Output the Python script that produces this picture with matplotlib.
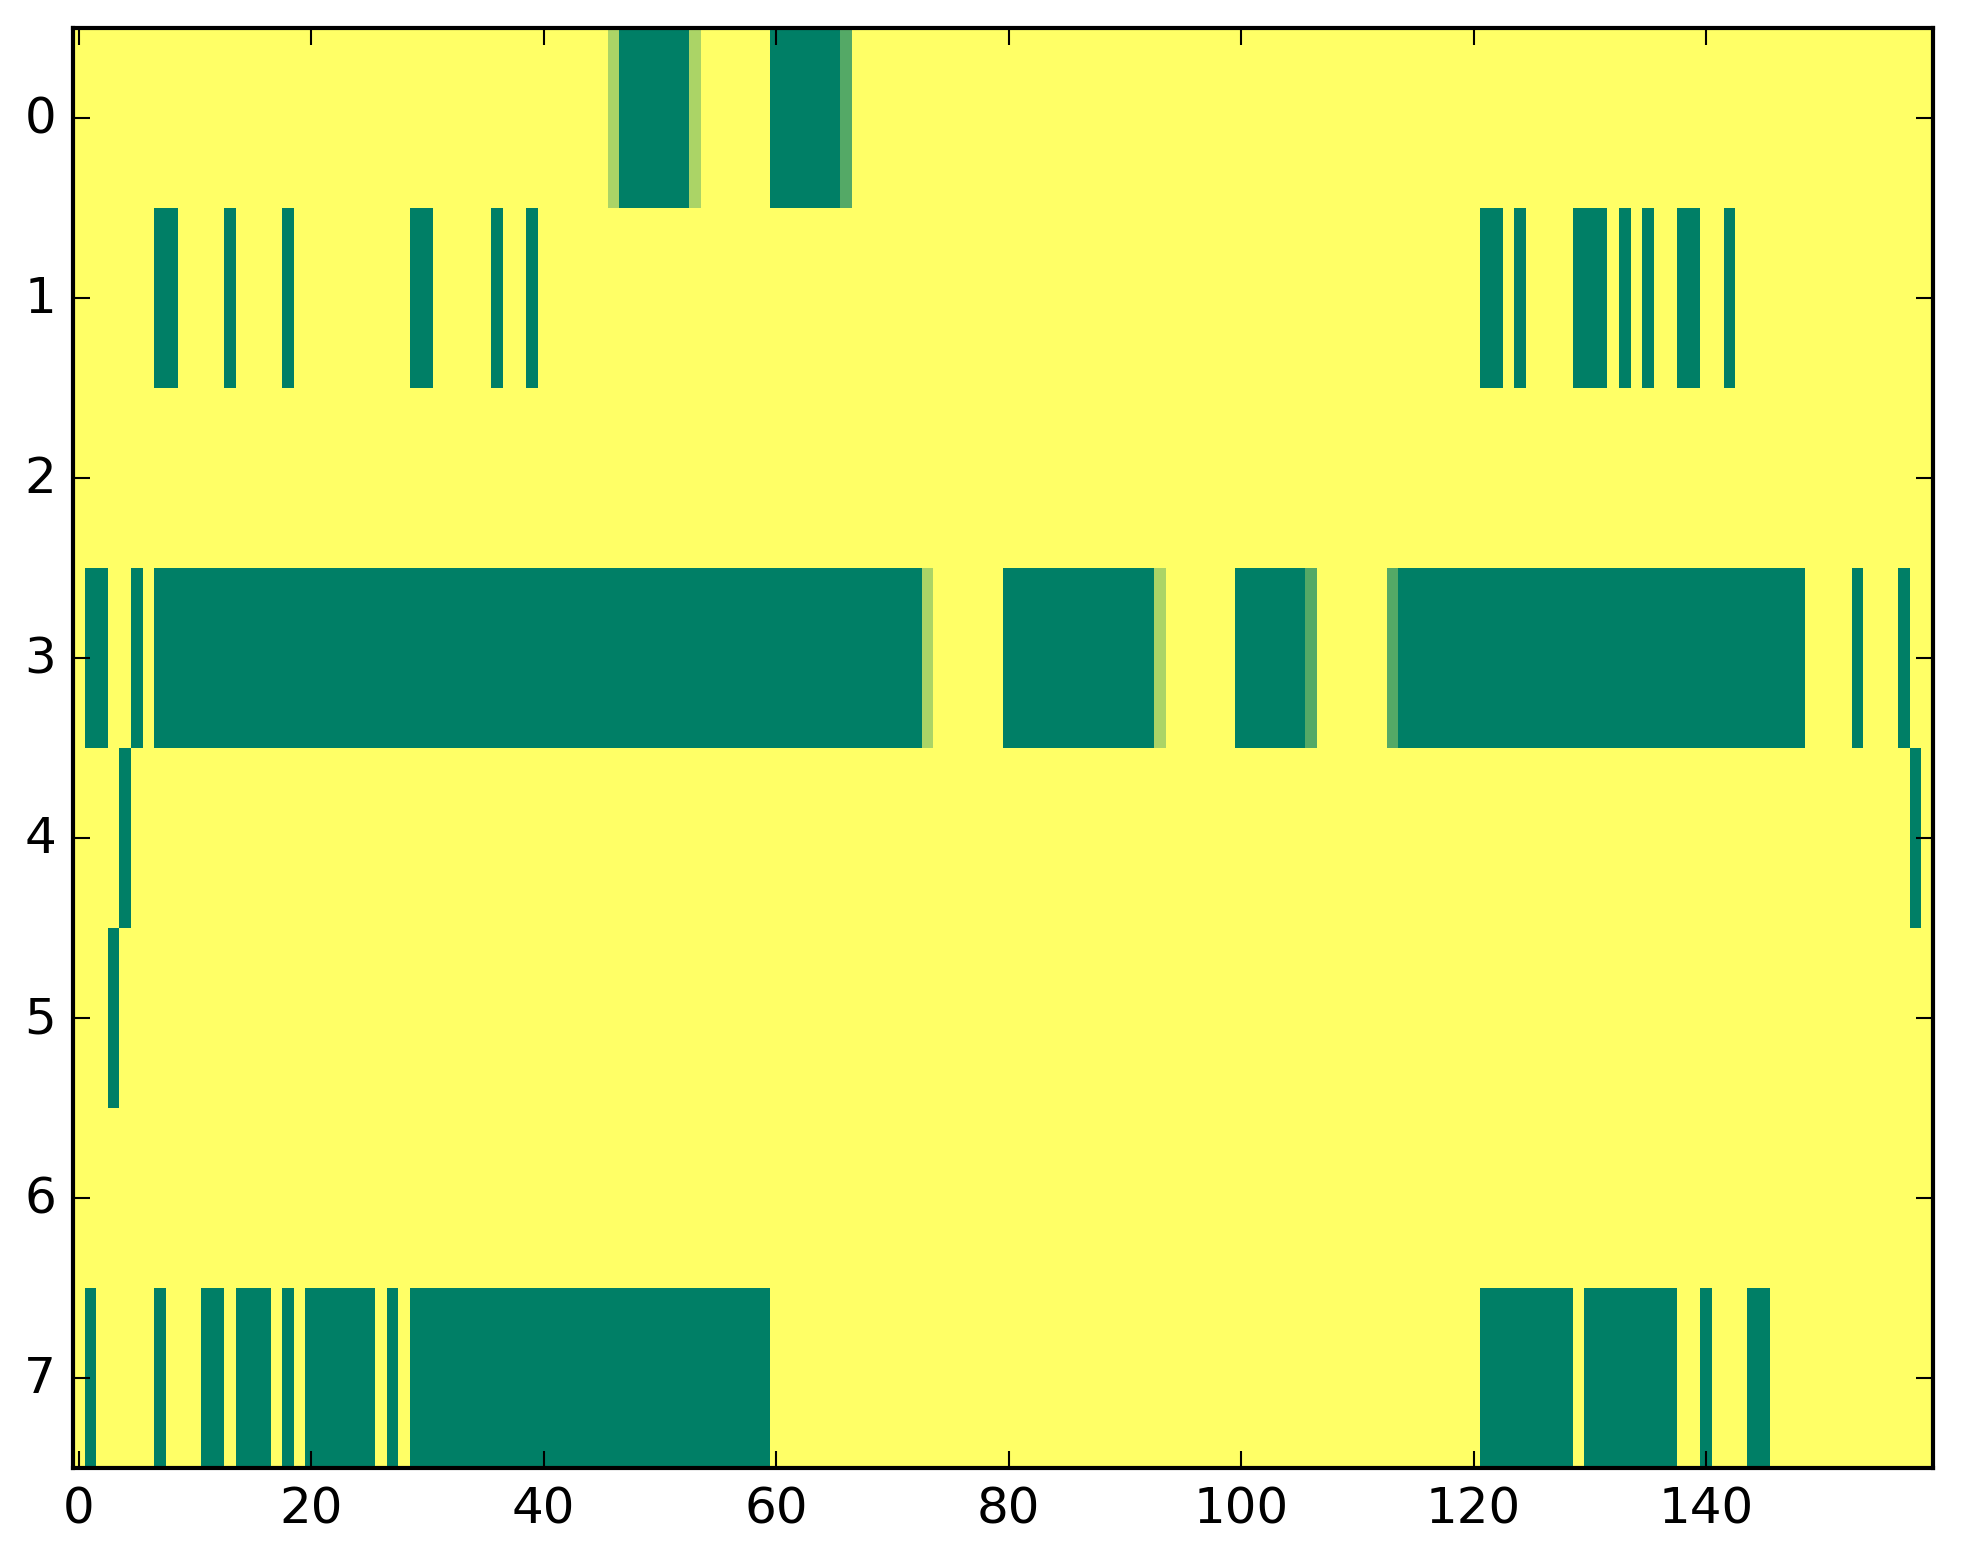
import numpy as np
import matplotlib
matplotlib.use('Agg')
import matplotlib.pyplot as plt

plt.style.use('classic')

# grid size
n_rows = 8
n_cols = 160

# value runs per row: (first col, last col, value); everything else is 1.0
row0 = [(46, 46, 0.67), (47, 52, 0.0), (53, 53, 0.67), (60, 65, 0.0), (66, 66, 0.33)]
row1 = [(7, 8, 0.0), (13, 13, 0.0), (18, 18, 0.0), (29, 30, 0.0), (36, 36, 0.0),
        (39, 39, 0.0), (121, 122, 0.0), (124, 124, 0.0), (129, 131, 0.0),
        (133, 133, 0.0), (135, 135, 0.0), (138, 139, 0.0), (142, 142, 0.0)]
row2 = []
row3 = [(1, 2, 0.0), (5, 5, 0.0), (7, 72, 0.0), (73, 73, 0.67), (80, 92, 0.0),
        (93, 93, 0.67), (100, 105, 0.0), (106, 106, 0.33), (113, 113, 0.33),
        (114, 148, 0.0), (153, 153, 0.0), (157, 157, 0.0)]
row4 = [(4, 4, 0.0), (158, 158, 0.0)]
row5 = [(3, 3, 0.0)]
row6 = []
row7 = [(1, 1, 0.0), (7, 7, 0.0), (11, 12, 0.0), (14, 16, 0.0), (18, 18, 0.0),
        (20, 25, 0.0), (27, 27, 0.0), (29, 59, 0.0), (121, 128, 0.0),
        (130, 137, 0.0), (140, 140, 0.0), (144, 145, 0.0)]
rows = [row0, row1, row2, row3, row4, row5, row6, row7]

data = np.ones((n_rows, n_cols))
for r, segs in enumerate(rows):
    for a, b, v in segs:
        data[r, a:b + 1] = v

fig = plt.figure(figsize=(1963 / 300, 1564 / 300), dpi=300, facecolor='white')
ax = fig.add_axes([0.0371, 0.0607, 0.9475, 0.9207])
ax.imshow(data, cmap='summer', vmin=0, vmax=1, interpolation='nearest',
          aspect='auto')
ax.set_xticks(np.arange(0, 160, 20))
ax.set_yticks(np.arange(0, 8))
ax.tick_params(labelsize=12)

fig.savefig('out.png', dpi=300, facecolor='white')
